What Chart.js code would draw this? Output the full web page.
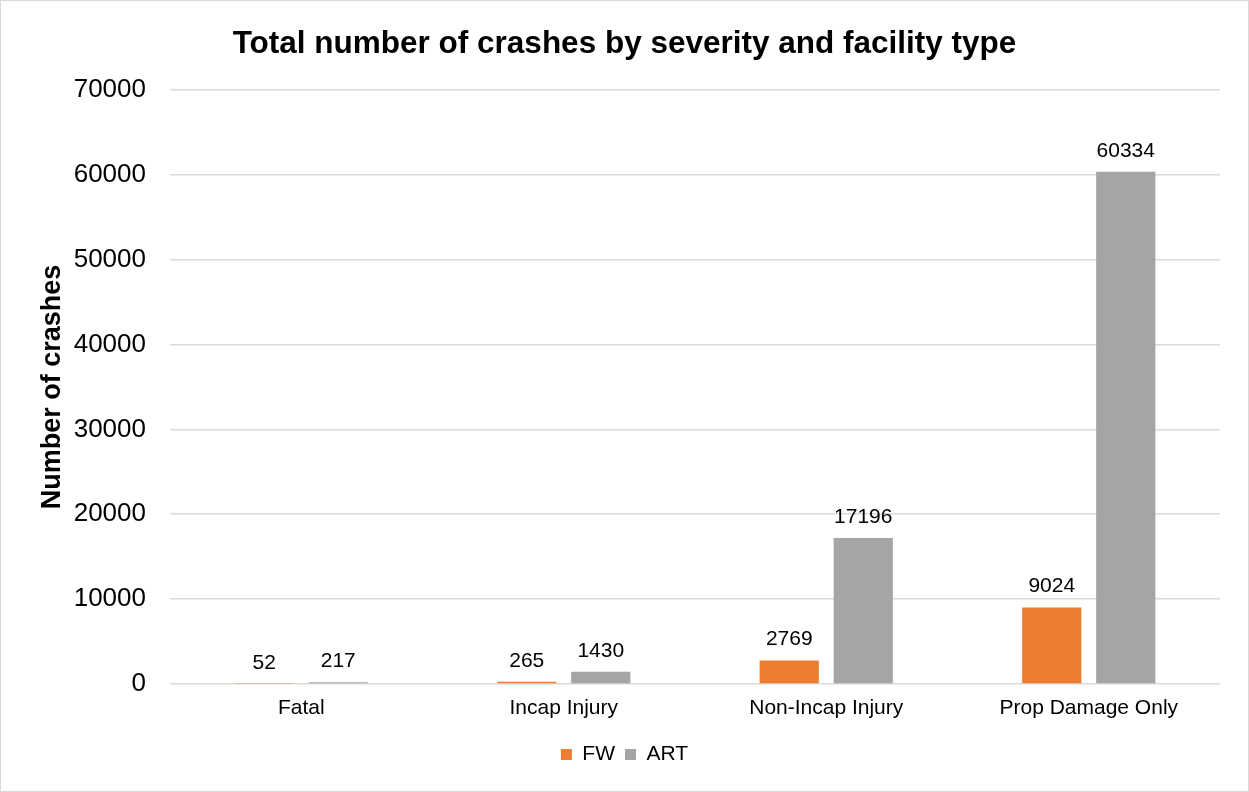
<!DOCTYPE html>
<html>
<head>
<meta charset="utf-8">
<script src="https://cdn.jsdelivr.net/npm/chart.js@4"></script>
<style>
  html, body { margin: 0; padding: 0; background: #fff; }
  #wrap { width: 1249px; height: 792px; box-sizing: border-box; border: 1px solid #d9d9d9; background: #fff; }
</style>
</head>
<body>
<div id="wrap"><canvas id="chart" width="1247" height="790"></canvas></div>
<script>
// カテゴリと系列データ
var severities = ['Fatal', 'Incap Injury', 'Non-Incap Injury', 'Prop Damage Only'];
var fwCrashes = [52, 265, 2769, 9024];
var artCrashes = [217, 1430, 17196, 60334];
var yTicks = [0, 10000, 20000, 30000, 40000, 50000, 60000, 70000];

var FONT = '"Liberation Sans", Arial, sans-serif';

// 棒の上に値を描くプラグイン
var valueLabels = {
  id: 'valueLabels',
  afterDatasetsDraw: function(chart) {
    var ctx = chart.ctx;
    ctx.save();
    ctx.font = '21px ' + FONT;
    ctx.fillStyle = '#000';
    ctx.textAlign = 'center';
    ctx.textBaseline = 'alphabetic';
    chart.data.datasets.forEach(function(ds, i) {
      chart.getDatasetMeta(i).data.forEach(function(bar, j) {
        ctx.fillText(ds.data[j], bar.x, bar.y - 15);
      });
    });
    ctx.restore();
  }
};

var context = document.getElementById('chart').getContext('2d');
var myChart = new Chart(context, {
  type: 'bar',
  data: {
    labels: severities,
    datasets: [{
      label: 'FW',
      data: fwCrashes,
      backgroundColor: '#ED7D31'
    }, {
      label: 'ART',
      data: artCrashes,
      backgroundColor: '#A5A5A5'
    }]
  },
  options: {
    responsive: false,
    animation: false,
    devicePixelRatio: 1,
    layout: { padding: { left: 28, right: 28, top: 0, bottom: 16 } },
    datasets: { bar: { categoryPercentage: 0.564, barPercentage: 0.8 } },
    plugins: {
      title: {
        display: true,
        text: 'Total number of crashes by severity and facility type',
        color: '#000',
        font: { family: FONT, size: 31.5, weight: 'bold' },
        padding: { top: 24, bottom: 27 }
      },
      legend: {
        position: 'bottom',
        labels: {
          boxWidth: 11,
          boxHeight: 11,
          padding: 10,
          color: '#000',
          font: { family: FONT, size: 21 }
        }
      },
      tooltip: { enabled: false }
    },
    scales: {
      x: {
        grid: { display: false },
        border: { display: false },
        afterFit: function(axis) { axis.height = 50; },
        ticks: {
          color: '#000',
          padding: 4,
          font: { family: FONT, size: 21 }
        }
      },
      y: {
        min: 0,
        max: 70000,
        afterBuildTicks: function(axis) {
          axis.ticks = yTicks.map(function(v) { return { value: v }; });
        },
        afterFit: function(axis) { axis.width = 141; },
        grid: { color: '#d9d9d9', lineWidth: 1.5, drawTicks: false },
        border: { display: false },
        ticks: {
          color: '#000',
          padding: 24,
          font: { family: FONT, size: 26 },
          callback: function(v) { return String(v); }
        },
        title: {
          display: true,
          text: 'Number of crashes',
          color: '#000',
          padding: { top: 7, bottom: 0 },
          font: { family: FONT, size: 27, weight: 'bold' }
        }
      }
    }
  },
  plugins: [valueLabels]
});
</script>
</body>
</html>
